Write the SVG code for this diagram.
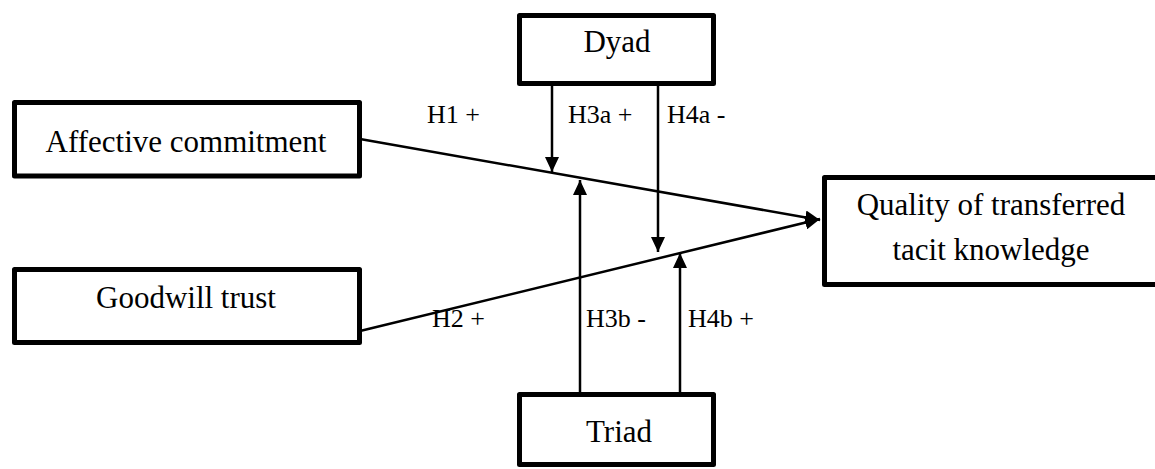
<svg xmlns="http://www.w3.org/2000/svg" width="1155" height="469" viewBox="0 0 1155 469">
<style>
.box{fill:#fff;stroke:#000;stroke-width:5;stroke-linejoin:round}
.t{font-size:31px;fill:#000;text-anchor:middle}
.lbl{font-size:26px;fill:#000}
.c{stroke:#000;stroke-width:2.5;fill:none}
</style>
<defs>
<marker id="ah" markerUnits="userSpaceOnUse" markerWidth="16" markerHeight="14" refX="15" refY="7" orient="auto">
<path d="M0,0 L15,7 L0,14 Z" fill="#000"/>
</marker>
</defs>
<rect width="1155" height="469" fill="#fff"/>
<g id="connectors">
<line class="c" x1="360" y1="139" x2="820" y2="220" marker-end="url(#ah)"/>
<line class="c" x1="360" y1="331" x2="820" y2="219" marker-end="url(#ah)"/>
<line class="c" x1="552" y1="86" x2="552" y2="172" marker-end="url(#ah)"/>
<line class="c" x1="658" y1="86" x2="658" y2="252" marker-end="url(#ah)"/>
<line class="c" x1="580" y1="392" x2="580" y2="180" marker-end="url(#ah)"/>
<line class="c" x1="680" y1="392" x2="680" y2="253" marker-end="url(#ah)"/>
</g>
<g font-family="Times New Roman, Liberation Serif, serif">
<g id="dyad">
<rect class="box" x="519.5" y="15.5" width="194" height="68"/>
<text class="t" x="617" y="52">Dyad</text>
</g>
<g id="affective">
<rect class="box" x="14.5" y="102.5" width="345" height="73.5"/>
<text class="t" x="186" y="152">Affective commitment</text>
</g>
<g id="goodwill">
<rect class="box" x="14.5" y="269.5" width="345" height="73"/>
<text class="t" x="186" y="308">Goodwill trust</text>
</g>
<g id="quality">
<rect class="box" x="824.5" y="177.5" width="335" height="107"/>
<text class="t" x="991" y="215">Quality of transferred</text>
<text class="t" x="991" y="260">tacit knowledge</text>
</g>
<g id="triad">
<rect class="box" x="519.5" y="394.5" width="194" height="70"/>
<text class="t" x="619" y="442">Triad</text>
</g>
<g id="labels">
<text class="lbl" x="427" y="123">H1 +</text>
<text class="lbl" x="568" y="123">H3a +</text>
<text class="lbl" x="667" y="123">H4a -</text>
<text class="lbl" x="432" y="327">H2 +</text>
<text class="lbl" x="586" y="327">H3b -</text>
<text class="lbl" x="688" y="327">H4b +</text>
</g>
</g>
</svg>
